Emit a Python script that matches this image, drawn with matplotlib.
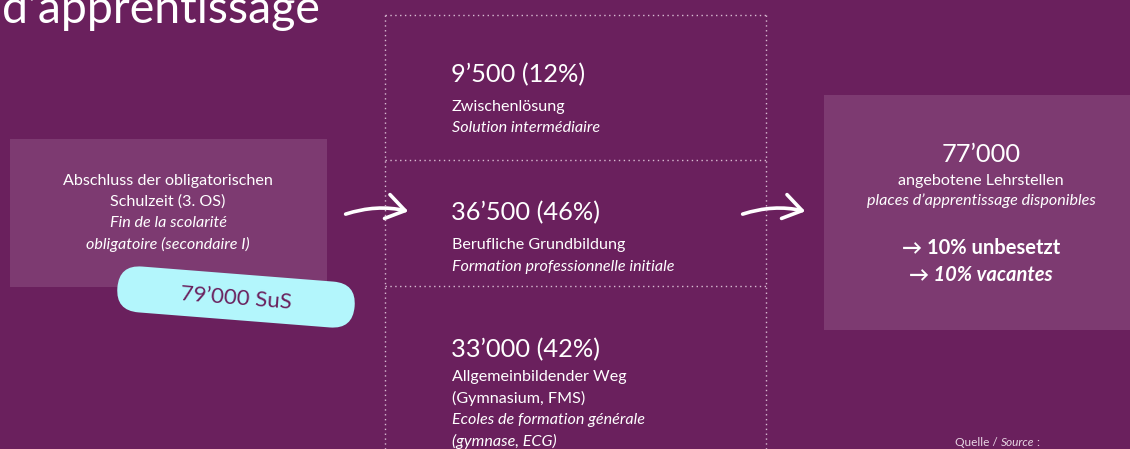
import matplotlib.pyplot as plt
from matplotlib.patches import Rectangle, FancyBboxPatch, FancyArrowPatch
from matplotlib.transforms import Affine2D

# --- data ---
total_pupils = 79000
path_counts = [9500, 36500, 33000]
path_shares = [12, 46, 42]
path_de = ["Zwischenlösung", "Berufliche Grundbildung", "Allgemeinbildender Weg\n(Gymnasium, FMS)"]
path_fr = ["Solution intermédiaire", "Formation professionnelle initiale", "Ecoles de formation générale\n(gymnase, ECG)"]
places = 77000
vacant_share = 10

def fmt(v):
    return f"{v:,}".replace(",", "\u2019")

BG = "#6a205d"
BOX = "#7d3a71"
FONT = ["Lato", "DejaVu Sans"]
plt.rcParams["font.family"] = FONT
SMALL = 11.6
BIG = 18.3

fig = plt.figure(figsize=(11.3, 4.49), dpi=100)
fig.patch.set_facecolor(BG)
ax = fig.add_axes([0, 0, 1, 1])
ax.set_xlim(0, 1130)
ax.set_ylim(449, 0)
ax.axis("off")

# title fragment (cut at top)
ax.text(2, 23, "d\u2019apprentissage", color="white", fontsize=33.5, va="baseline", ha="left")

# left box
ax.add_patch(Rectangle((10, 139), 317, 148, color=BOX, lw=0))
ax.text(168, 181, "Abschluss der obligatorischen", color="white", fontsize=SMALL, ha="center", va="center")
ax.text(168, 202, "Schulzeit (3. OS)", color="white", fontsize=SMALL, ha="center", va="center")
ax.text(168, 223, "Fin de la scolarité", color="white", fontsize=SMALL, ha="center", va="center", style="italic")
ax.text(168, 244, "obligatoire (secondaire I)", color="white", fontsize=SMALL, ha="center", va="center", style="italic")

# pill
cx, cy = 236, 297
pill = FancyBboxPatch((cx - 119, cy - 23), 238, 46, boxstyle="round,pad=0,rounding_size=23",
                      fc="#b3f6fc", ec="none")
pill.set_transform(Affine2D().rotate_deg_around(cx, cy, 4.5) + ax.transData)
ax.add_patch(pill)
ax.text(cx, cy + 1, fmt(total_pupils) + " SuS", color=BG, fontsize=16, ha="center", va="center",
        rotation=-4.5, rotation_mode="anchor")

# middle dotted frame
dot = dict(color="#d8bcd2", lw=1, ls=(0, (1, 2.5)))
x0, x1 = 385, 766
ax.plot([x0, x1], [15, 15], **dot)
ax.plot([x0, x0], [15, 449], **dot)
ax.plot([x1, x1], [15, 449], **dot)
ax.plot([x0, x1], [160, 160], **dot)
ax.plot([x0, x1], [286, 286], **dot)

# path texts
head_y = [75, 213, 350]
for i in range(3):
    y = head_y[i]
    ax.text(451, y, f"{fmt(path_counts[i])} ({path_shares[i]}%)", color="white", fontsize=BIG,
            ha="left", va="center")
    yy = y + 32 if i < 2 else y + 27
    for ln in path_de[i].split("\n"):
        ax.text(452, yy, ln, color="white", fontsize=SMALL, ha="left", va="center")
        yy += 21.5
    for ln in path_fr[i].split("\n"):
        ax.text(452, yy, ln, color="white", fontsize=SMALL, ha="left", va="center", style="italic")
        yy += 21.5

# arrows
for xa, xb in [(343, 411), (740, 808)]:
    ax.add_patch(FancyArrowPatch((xa, 215), (xb, 212), connectionstyle="arc3,rad=-0.15",
                                 arrowstyle="->,head_length=6,head_width=4", color="white",
                                 lw=2.6, mutation_scale=2.2))

# right box
ax.add_patch(Rectangle((824, 95), 306, 235, color=BOX, lw=0))
rx = 981
ax.text(rx, 154, fmt(places), color="white", fontsize=BIG, ha="center", va="center")
ax.text(rx, 181, "angebotene Lehrstellen", color="white", fontsize=SMALL, ha="center", va="center")
ax.text(rx, 201, "places d\u2019apprentissage disponibles", color="white", fontsize=SMALL, ha="center",
        va="center", style="italic")
ax.text(rx, 248, f"\u2192 {vacant_share}% unbesetzt", color="white", fontsize=14.5, ha="center",
        va="center", weight="bold")
ax.text(rx, 275, f"\u2192 {vacant_share}% vacantes", color="white", fontsize=14.5, ha="center",
        va="center", weight="bold", style="italic")

# source line, pieces placed one after the other
renderer = fig.canvas.get_renderer()
inv = ax.transData.inverted()
sx = 955
for piece, st in [("Quelle / ", "normal"), ("Source", "italic"), (" :", "normal")]:
    t = ax.text(sx, 443, piece, color="#e8d6e4", fontsize=8.6, ha="left", va="center", style=st)
    bb = t.get_window_extent(renderer)
    sx += inv.transform((bb.x1, 0))[0] - inv.transform((bb.x0, 0))[0]

fig.savefig("out.png", dpi=100, facecolor=BG)
